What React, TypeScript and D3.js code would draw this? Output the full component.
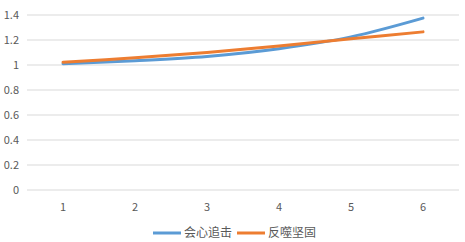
import React from "react";
import * as d3 from "d3";

const categories = ["1", "2", "3", "4", "5", "6"];
const seriesNames = ["会心追击", "反噬坚固"];
const seriesA = [1.01, 1.034, 1.068, 1.13, 1.225, 1.375];
const seriesB = [1.022, 1.058, 1.1, 1.152, 1.21, 1.265];
const yTicks = [0, 0.2, 0.4, 0.6, 0.8, 1, 1.2, 1.4];
const colors = ["#5B9BD5", "#ED7D31"];

const W = 465;
const H = 242;
const left = 27;
const right = 459;
const top = 15;
const bottom = 190;

export default function App() {
  const x = d3.scaleBand<string>().domain(categories).range([left, right]);
  const y = d3.scaleLinear().domain([0, 1.4]).range([bottom, top]);
  const line = d3
    .line<number>()
    .x((_, i) => (x(categories[i]) as number) + x.bandwidth() / 2)
    .y((d) => y(d))
    .curve(d3.curveCatmullRom.alpha(0));
  const series = [seriesA, seriesB];
  const font = "'Noto Sans CJK SC', 'Noto Sans', sans-serif";
  return (
    <svg
      width={W}
      height={H}
      style={{ position: "absolute", left: 0, top: 0, background: "#fff" }}
    >
      {yTicks.map((t) => (
        <g key={t}>
          <line x1={left} x2={right} y1={y(t)} y2={y(t)} stroke="#D9D9D9" strokeWidth={1} />
          <text
            x={19}
            y={y(t)}
            dy="0.35em"
            textAnchor="end"
            fontSize={11}
            fill="#595959"
            fontFamily={font}
          >
            {d3.format("~g")(t)}
          </text>
        </g>
      ))}
      {categories.map((c) => (
        <text
          key={c}
          x={(x(c) as number) + x.bandwidth() / 2}
          y={207}
          dy="0.35em"
          textAnchor="middle"
          fontSize={11}
          fill="#595959"
          fontFamily={font}
        >
          {c}
        </text>
      ))}
      {series.map((s, i) => (
        <path
          key={i}
          d={line(s) || ""}
          fill="none"
          stroke={colors[i]}
          strokeWidth={3}
          strokeLinecap="round"
        />
      ))}
      {seriesNames.map((n, i) => {
        const lx = 153 + i * 84;
        return (
          <g key={n}>
            <line x1={lx} x2={lx + 28} y1={233} y2={233} stroke={colors[i]} strokeWidth={3} />
            <text
              x={lx + 31}
              y={233}
              dy="0.35em"
              fontSize={12}
              fill="#595959"
              fontFamily={font}
            >
              {n}
            </text>
          </g>
        );
      })}
    </svg>
  );
}
